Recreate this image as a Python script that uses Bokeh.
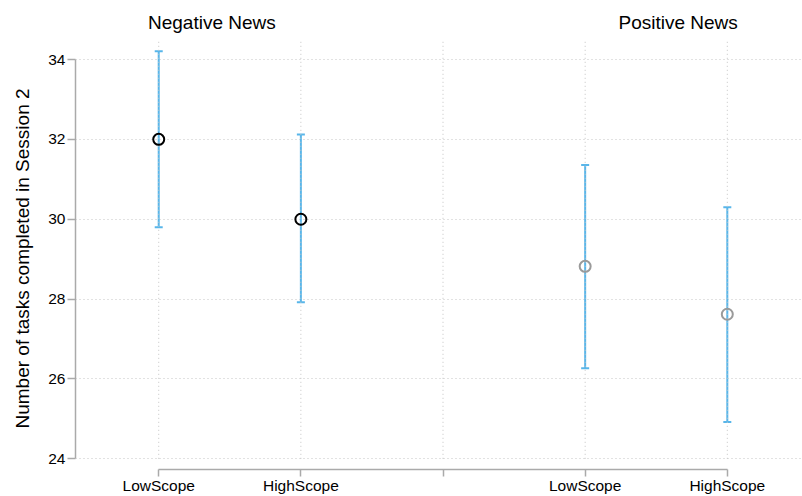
from bokeh.plotting import figure
from bokeh.models import (ColumnDataSource, FixedTicker, Range1d, Whisker, TeeHead, Label, Title)
from bokeh.embed import file_html
from bokeh.resources import INLINE

# ---- data ----
tick_positions = [1, 2, 3, 4, 5]
tick_labels = ["LowScope", "HighScope", "", "LowScope", "HighScope"]
x_pos = [1, 2, 4, 5]
means = [32.0, 30.0, 28.82, 27.62]
lower = [29.8, 27.92, 26.27, 24.92]
upper = [34.21, 32.12, 31.36, 30.3]
marker_colors = ["black", "black", "#9a9a9a", "#9a9a9a"]
group_titles = ["Negative News", "Positive News"]
group_title_x = [1.374, 4.654]
y_ticks = [24, 26, 28, 30, 32, 34]

FONT = "Liberation Sans"
BLUE = "#58b6ea"
AXIS_GRAY = "#aaaaaa"
GRID_GRAY = "#c4c4c4"

p = figure(width=802, height=496, output_backend="svg", toolbar_location=None,
           x_range=Range1d(0.4145, 5.529), y_range=Range1d(23.732, 35.478),
           min_border_left=75, min_border_right=0, min_border_top=0, min_border_bottom=0)
p.outline_line_color = None
p.background_fill_color = "white"
p.border_fill_color = "white"

# y axis
p.yaxis.ticker = FixedTicker(ticks=y_ticks)
p.yaxis.bounds = (y_ticks[0], y_ticks[-1])
p.yaxis.axis_line_color = AXIS_GRAY
p.yaxis.axis_line_width = 1.5
p.yaxis.major_tick_line_color = AXIS_GRAY
p.yaxis.major_tick_line_width = 1.5
p.yaxis.major_tick_out = 8
p.yaxis.major_tick_in = 0
p.yaxis.minor_tick_line_color = None
p.yaxis.major_label_standoff = 2
p.yaxis.major_label_text_font = FONT
p.yaxis.major_label_text_font_size = "15.5px"
p.yaxis.major_label_text_color = "black"

# x axis
p.xaxis.ticker = FixedTicker(ticks=tick_positions)
p.xaxis.major_label_overrides = {t: l for t, l in zip(tick_positions, tick_labels)}
p.xaxis.bounds = (tick_positions[0], tick_positions[-1])
p.xaxis.axis_line_color = AXIS_GRAY
p.xaxis.axis_line_width = 1.5
p.xaxis.major_tick_line_color = AXIS_GRAY
p.xaxis.major_tick_line_width = 1.5
p.xaxis.major_tick_out = 7
p.xaxis.major_tick_in = 0
p.xaxis.minor_tick_line_color = None
p.xaxis.major_label_standoff = 0
p.xaxis.major_label_text_font = FONT
p.xaxis.major_label_text_font_size = "15.5px"
p.xaxis.major_label_text_color = "black"

# grids
p.xgrid.grid_line_color = None
p.ygrid.ticker = FixedTicker(ticks=y_ticks)
p.ygrid.grid_line_color = GRID_GRAY
p.ygrid.grid_line_dash = "1 3"
p.ygrid.grid_line_width = 1

# vertical dotted grid lines at the category ticks
p.segment(x0=tick_positions, x1=tick_positions,
          y0=[y_ticks[0]] * len(tick_positions), y1=[34.48] * len(tick_positions),
          line_color=GRID_GRAY, line_dash="1 3", line_width=1)

src = ColumnDataSource(dict(x=x_pos, mean=means, lower=lower, upper=upper, color=marker_colors))

# markers
p.scatter("x", "mean", source=src, marker="circle", size=11, fill_alpha=0,
          line_color="color", line_width=2)

# error bars with caps
w = Whisker(source=src, base="x", lower="lower", upper="upper",
            line_color=BLUE, line_width=2,
            upper_head=TeeHead(size=8, line_color=BLUE, line_width=2),
            lower_head=TeeHead(size=8, line_color=BLUE, line_width=2))
p.add_layout(w)

# group titles
for t, gx in zip(group_titles, group_title_x):
    p.add_layout(Label(x=gx, y=34.927, text=t, text_font=FONT, text_font_size="19px",
                       text_align="center", text_baseline="middle", text_color="black"))

# y axis title
p.add_layout(Title(text="Number of tasks completed in Session 2", align="left",
                   vertical_align="top",
                   text_font=FONT, text_font_size="19px", text_font_style="normal",
                   text_color="black", standoff=22, offset=41), "left")

open("out.html", "w").write(file_html(p, INLINE))
